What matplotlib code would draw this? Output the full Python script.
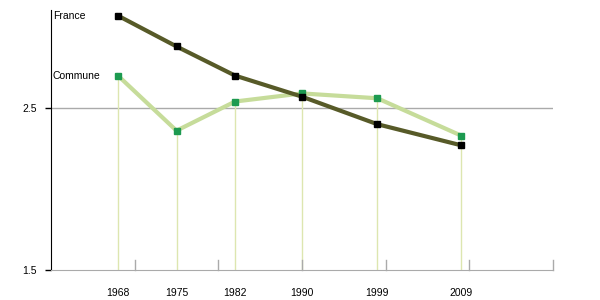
import matplotlib.pyplot as plt

years = [1968, 1975, 1982, 1990, 1999, 2009]
france = [3.07, 2.88, 2.70, 2.57, 2.40, 2.27]
commune = [2.70, 2.36, 2.54, 2.59, 2.56, 2.33]
yticks = [1.5, 2.5]
decades = [1970, 1980, 1990, 2000, 2010, 2020]

fig = plt.figure(figsize=(6, 3), dpi=100)
ax = fig.add_axes([0.085, 0.1, 0.8367, 0.8667])
ax.set_xlim(1960, 2020)
ax.set_ylim(1.5, 3.105)

# gridline at 2.5
ax.axhline(2.5, color='#aaaaaa', lw=1, zorder=1)

# vertical drop lines from commune points
for x, y in zip(years, commune):
    ax.plot([x, x], [1.5, y], color='#dde6b0', lw=1, zorder=1)

# decade ticks on the baseline (pointing up)
for d in decades:
    ax.plot([d, d], [1.5, 1.5 + 10 / 162], color='#aaaaaa', lw=1, zorder=1, clip_on=False)

ax.plot(years, commune, color='#c6dc9a', lw=3, zorder=2)
ax.plot(years, france, color='#575a28', lw=3, zorder=3)
ax.plot(years, commune, ls='none', marker='s', ms=4, color='#1d9a50', zorder=4)
ax.plot(years, france, ls='none', marker='s', ms=4, color='black', zorder=5)

ax.text(1960.2, france[0], 'France', fontsize=7.5, va='center', ha='left',
        family='Liberation Sans')
ax.text(1960.2, commune[0], 'Commune', fontsize=7.5, va='center', ha='left',
        family='Liberation Sans')

for s in ['top', 'right']:
    ax.spines[s].set_visible(False)
ax.spines['bottom'].set_color('#aaaaaa')
ax.spines['left'].set_color('black')

ax.set_yticks(yticks)
ax.set_yticklabels(['1.5', '2.5'], fontsize=7.5, family='Liberation Sans')
ax.tick_params(axis='y', length=4, width=1, pad=6)
ax.set_xticks(years)
ax.set_xticklabels([str(y) for y in years], fontsize=7.5, family='Liberation Sans')
ax.tick_params(axis='x', length=0, pad=13)

plt.savefig('out.png')
